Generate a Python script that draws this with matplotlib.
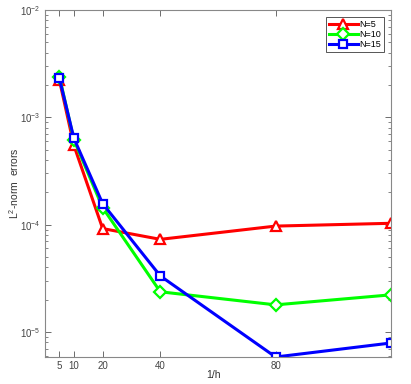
import matplotlib
matplotlib.use("Agg")
import matplotlib.pyplot as plt
from matplotlib.ticker import LogLocator, NullFormatter

plt.rcParams["font.family"] = ["Liberation Sans", "DejaVu Sans"]
plt.rcParams["mathtext.fontset"] = "custom"
plt.rcParams["mathtext.rm"] = "Liberation Sans"
plt.rcParams["mathtext.it"] = "Liberation Sans"

# 1/h values and L2 errors for each N
inv_h = [5, 10, 20, 40, 80, 120]
err_n5 = [2.22e-3, 5.5e-4, 9.2e-5, 7.3e-5, 9.7e-5, 1.03e-4]
err_n10 = [2.4e-3, 6.2e-4, 1.44e-4, 2.37e-5, 1.79e-5, 2.22e-5]
err_n15 = [2.31e-3, 6.4e-4, 1.57e-4, 3.33e-5, 5.85e-6, 7.9e-6]
xtick_vals = [5, 10, 20, 40, 80]

fig = plt.figure(figsize=(4.11, 3.84), dpi=100)
ax = fig.add_axes([0.1095, 0.0703, 0.8415, 0.9037])

ax.plot(inv_h, err_n5, color="#ff0000", lw=2.2, marker="^", ms=7,
        mfc="white", mew=1.6, label="N=5")
ax.plot(inv_h, err_n10, color="#00ff00", lw=2.2, marker="D", ms=6,
        mfc="white", mew=1.6, label="N=10")
ax.plot(inv_h, err_n15, color="#0000ff", lw=2.2, marker="s", ms=6,
        mfc="white", mew=1.6, label="N=15")

ax.set_yscale("log")
ax.set_xlim(0, 120)
ax.set_ylim(5.85e-6, 1e-2)
ax.set_xticks(xtick_vals)
ax.set_xticklabels([str(v) for v in xtick_vals])
ax.yaxis.set_major_locator(LogLocator(base=10, numticks=10))
ax.yaxis.set_minor_locator(LogLocator(base=10, subs=range(2, 10), numticks=20))
ax.yaxis.set_minor_formatter(NullFormatter())

ax.tick_params(which="both", direction="in", top=True, right=True,
               colors="#555555", labelsize=7, labelcolor="#444444")
ax.tick_params(which="major", length=4, width=0.6, pad=3)
ax.tick_params(which="minor", length=2, width=0.5)
for sp in ax.spines.values():
    sp.set_color("#888888")
    sp.set_linewidth(0.8)

ax.set_xlabel("1/h", fontsize=7.5, color="#333333")
ax.set_ylabel("L$^2$-norm  errors", fontsize=7.5, color="#333333")
ax.xaxis.set_label_coords(0.486, -0.038)
ax.yaxis.set_label_coords(-0.068, 0.5)

leg = ax.legend(loc="upper right", bbox_to_anchor=(0.985, 0.985),
                fontsize=6.5, handlelength=3.2, handletextpad=0.2,
                borderpad=0.3, labelspacing=0.15, borderaxespad=0.2,
                fancybox=False, framealpha=1)
leg.get_frame().set_edgecolor("#555555")
leg.get_frame().set_linewidth(0.7)

fig.savefig("out.png", dpi=100)
